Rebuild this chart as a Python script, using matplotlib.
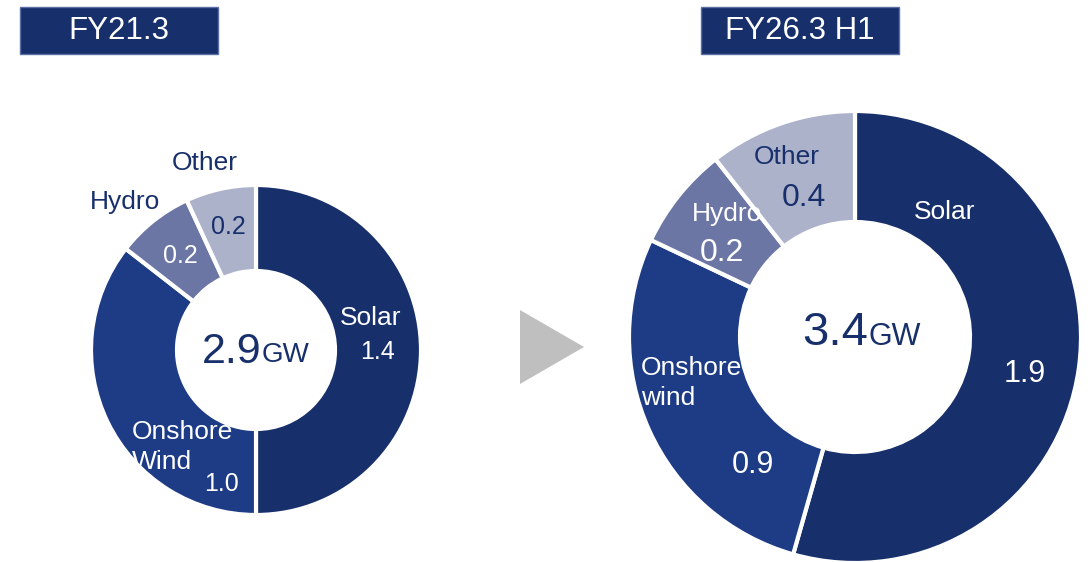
import matplotlib.pyplot as plt
from matplotlib.patches import Rectangle, Polygon

plt.rcParams['font.family'] = ['Liberation Sans', 'DejaVu Sans']

# data (GW) - wedge sizes, labels as printed
categories = ['Solar', 'Onshore wind', 'Hydro', 'Other']
fy21_values = [1.45, 1.03, 0.22, 0.20]
fy26_values = [1.85, 0.94, 0.25, 0.36]
fy21_labels = ['1.4', '1.0', '0.2', '0.2']
fy26_labels = ['1.9', '0.9', '0.2', '0.4']
fy21_total = '2.9'
fy26_total = '3.4'
titles = ['FY21.3', 'FY26.3 H1']

colors = ['#172f6b', '#1d3c85', '#6b76a4', '#adb2cb']
NAVY = '#172f6b'

W, H = 1091, 562
fig = plt.figure(figsize=(W / 100, H / 100), dpi=100)
ax = fig.add_axes([0, 0, 1, 1])


def Y(y):
    # pixel row (from top) -> data y
    return H - y


def donut(values, cx, cy, r_out, r_in):
    ax.pie(values, colors=colors, startangle=90, counterclock=False,
           center=(cx, Y(cy)), radius=r_out, frame=True,
           wedgeprops=dict(width=r_out - r_in, edgecolor='white', linewidth=3))


donut(fy21_values, 256, 350, 165, 79)
donut(fy26_values, 855, 337, 226, 115)

# title boxes
for x0, t in zip([20, 701], titles):
    ax.add_patch(Rectangle((x0, Y(54)), 198, 47, facecolor=NAVY,
                           edgecolor='#5b6fa3', linewidth=1, zorder=5))
    ax.text(x0 + 99, Y(31), t, color='white', fontsize=22.5,
            ha='center', va='center', zorder=6)

# arrow
ax.add_patch(Polygon([(520, Y(310)), (520, Y(384)), (584, Y(347))],
                     closed=True, facecolor='#bfbfbf', edgecolor='none'))

# center totals
ax.text(262, Y(352), fy21_total, fontsize=31, color=NAVY, ha='right', va='center')
ax.text(262, Y(355), 'GW', fontsize=20, color=NAVY, ha='left', va='center')
ax.text(868, Y(333), fy26_total, fontsize=34, color=NAVY, ha='right', va='center')
ax.text(868, Y(337), 'GW', fontsize=22, color=NAVY, ha='left', va='center')

NM = 19  # category name size

# left chart labels
ax.text(371, Y(318), 'Solar', fontsize=NM, color='white', ha='center', va='center')
ax.text(377, Y(352), fy21_labels[0], fontsize=18, color='white', ha='center', va='center')
ax.text(132, Y(447), 'Onshore\nWind', fontsize=NM, color='white', ha='left',
        va='center', linespacing=1.3)
ax.text(221, Y(484), fy21_labels[1], fontsize=18, color='white', ha='center', va='center')
ax.text(125, Y(202), 'Hydro', fontsize=NM, color=NAVY, ha='center', va='center')
ax.text(180, Y(256), fy21_labels[2], fontsize=18, color='white', ha='center', va='center')
ax.text(205, Y(163), 'Other', fontsize=NM, color=NAVY, ha='center', va='center')
ax.text(228, Y(227), fy21_labels[3], fontsize=18, color=NAVY, ha='center', va='center')

# right chart labels
ax.text(945, Y(212), 'Solar', fontsize=NM, color='white', ha='center', va='center')
ax.text(1025, Y(374), fy26_labels[0], fontsize=22, color='white', ha='center', va='center')
ax.text(641, Y(383), 'Onshore\nwind', fontsize=NM, color='white', ha='left',
        va='center', linespacing=1.3)
ax.text(753, Y(465), fy26_labels[1], fontsize=22, color='white', ha='center', va='center')
ax.text(727, Y(214), 'Hydro', fontsize=NM, color='white', ha='center', va='center')
ax.text(722, Y(253), fy26_labels[2], fontsize=23, color='white', ha='center', va='center')
ax.text(787, Y(157), 'Other', fontsize=NM, color=NAVY, ha='center', va='center')
ax.text(804, Y(198), fy26_labels[3], fontsize=23, color=NAVY, ha='center', va='center')

ax.set_xlim(0, W)
ax.set_ylim(0, H)
ax.set_aspect('auto')
ax.axis('off')

fig.savefig('out.png', dpi=100, facecolor='white')
